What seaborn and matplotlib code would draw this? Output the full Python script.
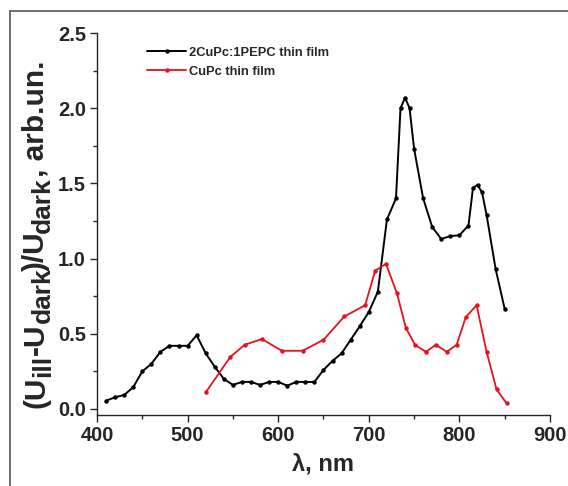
import matplotlib
matplotlib.use("Agg")
import matplotlib.pyplot as plt
from matplotlib.lines import Line2D
from matplotlib.ticker import MultipleLocator
from matplotlib.transforms import IdentityTransform
import seaborn as sns
import pandas as pd

black_x = [410, 420, 430, 440, 450, 460, 470, 480, 490, 500, 510, 520, 530, 540, 550,
           560, 570, 580, 590, 600, 610, 620, 630, 640, 650, 660, 670, 680, 690, 700,
           710, 720, 730, 735, 740, 745, 750, 760, 770, 780, 790, 800, 810, 815, 820,
           825, 830, 840, 850]
black_y = [0.055, 0.078, 0.093, 0.145, 0.25, 0.30, 0.38, 0.42, 0.42, 0.42, 0.49, 0.37,
           0.28, 0.20, 0.16, 0.18, 0.18, 0.16, 0.18, 0.18, 0.155, 0.18, 0.18, 0.18, 0.26,
           0.32, 0.37, 0.46, 0.55, 0.645, 0.78, 1.26, 1.40, 2.00, 2.07, 2.00, 1.73, 1.40,
           1.21, 1.13, 1.15, 1.155, 1.22, 1.47, 1.49, 1.44, 1.29, 0.93, 0.665]

red_x = [520, 547, 563, 582, 604, 627, 650, 673, 696, 707, 719, 731, 741, 751, 763,
         774, 786, 797, 807, 819, 830, 841, 852]
red_y = [0.11, 0.345, 0.427, 0.465, 0.387, 0.387, 0.46, 0.615, 0.69, 0.92, 0.965, 0.77,
         0.538, 0.427, 0.38, 0.427, 0.38, 0.427, 0.61, 0.69, 0.38, 0.13, 0.038]

labels = ["2CuPc:1PEPC thin film", "CuPc thin film"]
x_label = "λ, nm"
# y label: (U_ill-U_dark)/U_dark, arb.un.  -> (text, is_subscript)
y_label_parts = [("(U", False), ("ill", True), ("-U", False), ("dark", True),
                 (")/U", False), ("dark", True), (", arb.un.", False)]

sns.set_style("ticks")
plt.rcParams["font.family"] = ["Liberation Sans", "DejaVu Sans"]
plt.rcParams["font.weight"] = "bold"

df_b = pd.DataFrame({"x": black_x, "y": black_y})
df_r = pd.DataFrame({"x": red_x, "y": red_y})

W, H = 568, 486
fig = plt.figure(figsize=(W / 100, H / 100), dpi=100)
ax = fig.add_axes([97 / W, 1 - 415 / H, (550 - 97) / W, (415 - 33) / H])

sns.lineplot(data=df_b, x="x", y="y", ax=ax, color="black", lw=1.4, marker="o",
             markersize=3.2, markeredgewidth=0, label=labels[0], sort=False)
sns.lineplot(data=df_r, x="x", y="y", ax=ax, color="#e8101c", lw=1.3, marker="o",
             markersize=3.2, markeredgewidth=0, label=labels[1], sort=False)

ax.set_xlim(400, 900)
ax.set_ylim(-0.04, 2.5)
ax.xaxis.set_major_locator(MultipleLocator(100))
ax.xaxis.set_minor_locator(MultipleLocator(50))
ax.yaxis.set_major_locator(MultipleLocator(0.5))
ax.yaxis.set_minor_locator(MultipleLocator(0.25))
ax.tick_params(which="major", direction="out", length=5, width=1, labelsize=14.5, pad=3)
ax.tick_params(which="minor", direction="out", length=3, width=1)
for lab in ax.get_xticklabels() + ax.get_yticklabels():
    lab.set_fontweight("bold")
sns.despine(ax=ax)
for s in ["left", "bottom"]:
    ax.spines[s].set_linewidth(1.0)

ax.set_xlabel(x_label, fontsize=17, fontweight="bold", labelpad=5)
ax.set_ylabel("")

leg = ax.legend(loc="upper left", bbox_to_anchor=(0.085, 0.995), frameon=False,
                prop={"size": 9.3, "weight": "bold"}, handlelength=3.0,
                handletextpad=0.25, labelspacing=0.55)

# y label built from pieces so the subscripts keep a large size
renderer = fig.canvas.get_renderer()
base_x = 44.0
cur_y = H - 408.0
for i, (txt, sub) in enumerate(y_label_parts):
    size = 19 if sub else 21.5
    dx = 6.0 if sub else 0.0
    t = fig.text(base_x + dx, cur_y, txt, rotation=90, rotation_mode="anchor",
                 ha="left", va="baseline", fontsize=size, fontweight="bold",
                 transform=IdentityTransform())
    bb = t.get_window_extent(renderer)
    step = bb.height
    if sub and i + 1 < len(y_label_parts) and y_label_parts[i + 1][0].startswith(")"):
        step -= 5.0
    cur_y += step

# outer frame lines
fig.add_artist(Line2D([10 / W, 1], [1 - 11 / H, 1 - 11 / H], color="#555555", lw=1.2))
fig.add_artist(Line2D([10 / W, 10 / W], [0, 1 - 11 / H], color="#555555", lw=1.2))

fig.savefig("out.png", dpi=100)
